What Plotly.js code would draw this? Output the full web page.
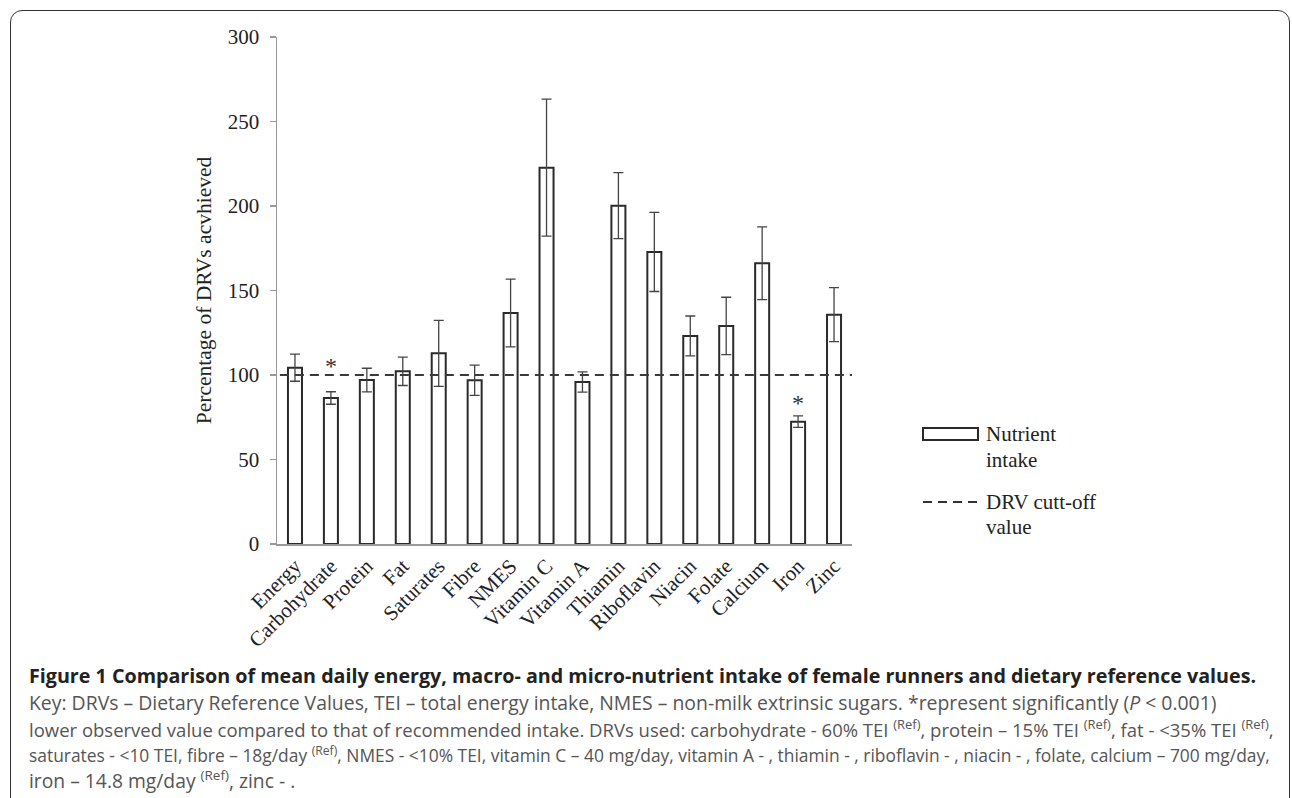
<!DOCTYPE html>
<html><head><meta charset="utf-8">
<script src="https://cdn.plot.ly/plotly-3.0.1.min.js"></script>
<style>
body{margin:0;background:#fff}
#chart{position:absolute;left:0;top:0;width:1292px;height:798px}
#frame{position:absolute;left:10px;top:10px;width:1278px;height:900px;border:1.5px solid #333;border-radius:12px;pointer-events:none}
</style>
</head><body>
<div id="chart"></div><div id="frame"></div>
<script>
const nutrients = ['Energy','Carbohydrate','Protein','Fat','Saturates','Fibre','NMES','Vitamin C','Vitamin A','Thiamin','Riboflavin','Niacin','Folate','Calcium','Iron','Zinc'];
const percentAchieved = [104.3, 86.4, 97.0, 102.2, 112.8, 96.9, 136.7, 222.7, 95.9, 200.2, 172.8, 123.1, 129.0, 166.1, 72.4, 135.7];
const errorValues = [8.0, 3.7, 7.0, 8.4, 19.5, 9.0, 20.0, 40.5, 6.0, 19.5, 23.4, 11.8, 17.0, 21.5, 3.4, 16.0];
const significant = ['Carbohydrate','Iron'];
const starLevel = [107, 85];
const drvCutoff = 100;
const yTicks = [0, 50, 100, 150, 200, 250, 300];

const serif = '"Liberation Serif", "Times New Roman", serif';
const capFont = '"Open Sans", "Noto Sans", sans-serif';

const bars = {
  type: 'bar', x: nutrients, y: percentAchieved, name: 'Nutrient intake',
  marker: {color: '#ffffff', line: {color: '#2a2a2a', width: 2}},
  error_y: {type: 'data', array: errorValues, visible: true, color: '#444', thickness: 1.3, width: 5},
  showlegend: false, hoverinfo: 'x+y'
};

const annotations = [];
significant.forEach((n, k) => {
  annotations.push({x: n, y: starLevel[k], xref: 'x', yref: 'y', text: '*',
    showarrow: false, yanchor: 'middle', yshift: -3, font: {family: serif, size: 24, color: '#333'}});
});

// legend (custom)
const legLines = [['Nutrient', 434], ['intake', 460], ['DRV cutt-off', 502], ['value', 527]];
const L = 277, R = 852, T = 37, B = 544;
legLines.forEach(([t, py]) => {
  annotations.push({xref: 'paper', yref: 'paper', x: (984 - L) / (R - L), y: (B - py) / (B - T), xanchor: 'left', yanchor: 'middle',
    text: t, showarrow: false, font: {family: serif, size: 21, color: '#222'}});
});

// caption
const capLines = [
  'Figure 1 Comparison of mean daily energy, macro- and micro-nutrient intake of female runners and dietary reference values.',
  'Key: DRVs – Dietary Reference Values, TEI – total energy intake, NMES – non-milk extrinsic sugars. *represent significantly (<i>P</i> &lt; 0.001)',
  'lower observed value compared to that of recommended intake. DRVs used: carbohydrate - 60% TEI <sup>(Ref)</sup>, protein – 15% TEI <sup>(Ref)</sup>, fat - &lt;35% TEI <sup>(Ref)</sup>,',
  'saturates - &lt;10 TEI, fibre – 18g/day <sup>(Ref)</sup>, NMES - &lt;10% TEI, vitamin C – 40 mg/day, vitamin A - , thiamin - , riboflavin - , niacin - , folate, calcium – 700 mg/day,',
  'iron – 14.8 mg/day <sup>(Ref)</sup>, zinc - .'
];
const capY = [675, 702, 728, 754, 780];
const capSize = [19.7, 19.4, 18.5, 17.4, 19.3];
capLines.forEach((t, k) => {
  annotations.push({xref: 'paper', yref: 'paper', x: (27 - L) / (R - L), y: (B - capY[k]) / (B - T),
    xanchor: 'left', yanchor: 'middle', align: 'left', showarrow: false, text: t,
    font: {family: capFont, size: capSize[k], color: k === 0 ? '#222' : '#555', weight: k === 0 ? 'bold' : 'normal'}});
});

const shapes = [
  {type: 'line', xref: 'paper', yref: 'y', x0: 0.005, x1: 1, y0: drvCutoff, y1: drvCutoff,
   line: {color: '#3a3a3a', width: 2, dash: '9px,6px'}},
  {type: 'rect', xref: 'paper', yref: 'paper', x0: (923 - L) / (R - L), x1: (978 - L) / (R - L),
   y0: (B - 440) / (B - T), y1: (B - 428) / (B - T), line: {color: '#2a2a2a', width: 2}, fillcolor: '#fff'},
  {type: 'line', xref: 'paper', yref: 'paper', x0: (923 - L) / (R - L), x1: (979 - L) / (R - L),
   y0: (B - 502) / (B - T), y1: (B - 502) / (B - T), line: {color: '#333', width: 2, dash: '9px,6px'}}
];

const layout = {
  width: 1292, height: 798,
  margin: {l: L, r: 1292 - R, t: T, b: 798 - B},
  paper_bgcolor: '#fff', plot_bgcolor: '#fff',
  bargap: 0.61,
  font: {family: serif, color: '#222'},
  xaxis: {type: 'category', tickangle: -45, showline: true, linecolor: '#999', linewidth: 1.5,
    ticks: '', tickfont: {family: serif, size: 21, color: '#222'}, showgrid: false, zeroline: false},
  yaxis: {range: [0, 300], tickvals: yTicks, showline: true, linecolor: '#999', linewidth: 1.5,
    ticks: 'outside', ticklen: 6, tickcolor: '#999', tickwidth: 1.3, showgrid: false, zeroline: false,
    tickfont: {family: serif, size: 21, color: '#222'}, ticklabelstandoff: 6,
    title: {text: 'Percentage of DRVs acvhieved', font: {family: serif, size: 21.5, color: '#222'}, standoff: 10}},
  shapes: shapes,
  annotations: annotations,
  showlegend: false
};

Plotly.newPlot('chart', [bars], layout, {displayModeBar: false, staticPlot: true});
</script>
</body></html>
